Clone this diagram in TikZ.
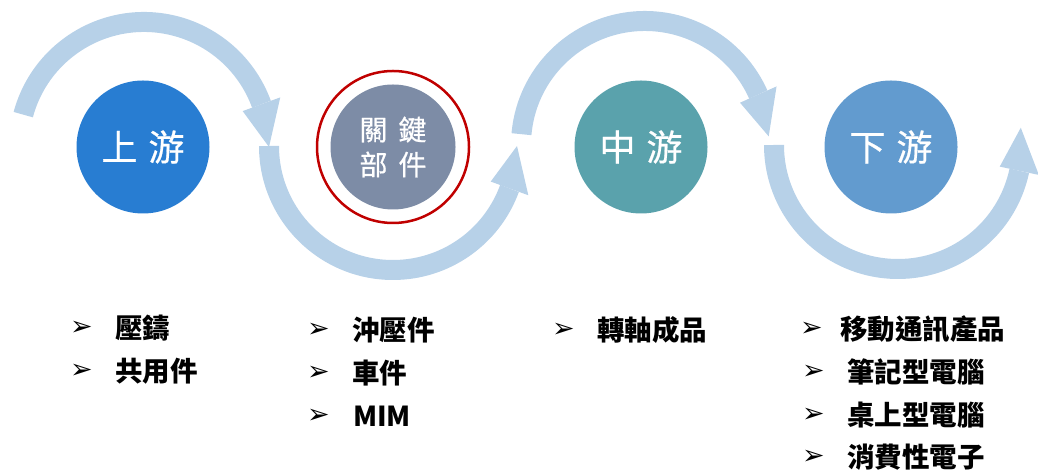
\documentclass[tikz,border=0pt]{standalone}
\usepackage{fontspec}
\newfontfamily\cjk{Noto Sans CJK TC}
\newfontfamily\cjkl[FakeBold=0.6]{Noto Sans CJK TC}
\newfontfamily\dv{DejaVu Sans}
\usetikzlibrary{calc}
\definecolor{arrowblue}{RGB}{183,209,232}
\definecolor{upblue}{RGB}{40,125,210}
\definecolor{keygray}{RGB}{125,140,166}
\definecolor{midteal}{RGB}{90,162,172}
\definecolor{downblue}{RGB}{98,155,207}
\definecolor{ringred}{RGB}{192,0,0}
% #1 centre coordinate, #2 start angle, #3 base angle of head, #4 tip angle, #5 radius
\newcommand{\ringarrow}[5]{%
  \draw[arrowblue, line width=20pt] ($(#1)+(#2:#5)$) arc[start angle=#2, end angle=#3, radius=#5];
  \fill[arrowblue] ($(#1)+(#3:#5-20pt)$) -- ($(#1)+(#4:#5)$) -- ($(#1)+(#3:#5+20pt)$) -- cycle;
}
\begin{document}
\begin{tikzpicture}[x=1pt,y=1pt]
\useasboundingbox (0,0) rectangle (1038,473);
\tikzset{
  bubble/.style={circle, inner sep=0pt, minimum size=133pt, text=white, align=center,
    font=\cjkl\fontsize{36}{40}\selectfont},
  item/.style={anchor=west, inner sep=0pt, text=black, font=\cjk\bfseries\fontsize{27.5}{30}\selectfont},
  bul/.style={anchor=west, inner sep=0pt, text=black, font=\dv\fontsize{27}{30}\selectfont},
}
% arc centres
\coordinate (a1) at (144,326);
\coordinate (a2) at (393,327);
\coordinate (a3) at (645,328);
\coordinate (a4) at (898,328);
% flowing arrows
\ringarrow{a1}{165}{20}{0}{125pt}
\ringarrow{a2}{180}{340}{360}{124pt}
\ringarrow{a3}{175}{24}{4}{124pt}
\ringarrow{a4}{180}{348}{368}{124pt}
% circles
\node[bubble, fill=upblue] (up) at (143,326) {上\hspace{11pt}游};
\node[bubble, fill=keygray, minimum size=125pt, font=\cjkl\fontsize{28}{35}\selectfont] (key) at (393,326) {關\hspace{11pt}鍵\\部\hspace{11pt}件};
\draw[ringred, line width=2.5pt] (key.center) circle[radius=76pt];
\node[bubble, fill=midteal] (mid) at (641,326) {中\hspace{11pt}游};
\node[bubble, fill=downblue] (down) at (891,326) {下\hspace{11pt}游};
% column 1
\node[bul] (b11) at (70,145) {➢};
\node[item] (t11) at (115,145) {壓鑄};
\node[bul] (b12) at (70,102) {➢};
\node[item] (t12) at (115,102) {共用件};
% column 2
\node[bul] (b21) at (307,143) {➢};
\node[item] (t21) at (352,143) {沖壓件};
\node[bul] (b22) at (307,100) {➢};
\node[item] (t22) at (352,100) {車件};
\node[bul] (b23) at (307,57) {➢};
\node[item] (t23) at (353,57) {MIM};
% column 3
\node[bul] (b31) at (552,143) {➢};
\node[item] (t31) at (597,143) {轉軸成品};
% column 4
\node[bul] (b41) at (800,144) {➢};
\node[item] (t41) at (840,144) {移動通訊產品};
\node[bul] (b42) at (802,101) {➢};
\node[item] (t42) at (847,101) {筆記型電腦};
\node[bul] (b43) at (802,58) {➢};
\node[item] (t43) at (847,58) {桌上型電腦};
\node[bul] (b44) at (802,16) {➢};
\node[item] (t44) at (847,16) {消費性電子};
\end{tikzpicture}
\end{document}
